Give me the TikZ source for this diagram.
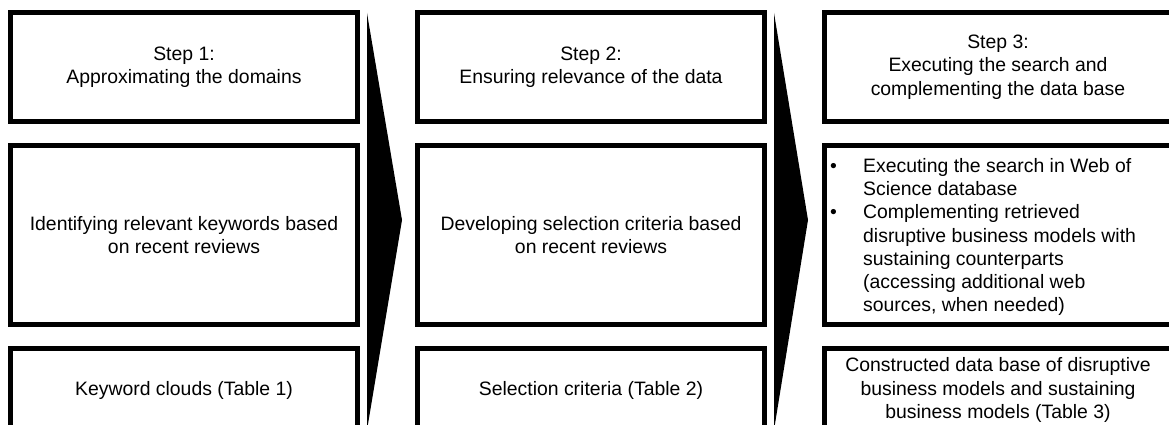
\documentclass[tikz,border=0pt]{standalone}
\usepackage{fontspec}
\setmainfont{Liberation Sans}
\usetikzlibrary{positioning, calc}
\tikzstyle{block} = [draw, rectangle, line width=5pt,
    minimum width=347pt, align=center, inner sep=0pt,
    font=\fontsize{19.4}{23.3}\selectfont]
\tikzstyle{head} = [block, minimum height=109pt]
\tikzstyle{task} = [block, minimum height=179pt]
\tikzstyle{result} = [block, minimum height=83pt]
\tikzstyle{listing} = [anchor=west, align=left, inner sep=0pt,
    font=\fontsize{19.4}{23.3}\selectfont]
\tikzstyle{chevron} = [fill=black]
\newcommand{\bul}{\makebox[34pt][l]{\hspace{1pt}•}}
\newcommand{\ind}{\hspace*{34pt}}

\begin{document}
\begin{tikzpicture}[node distance=19pt and 55pt]
    \useasboundingbox (0,0) rectangle (1169pt,-425pt);
    \clip (0,0) rectangle (1169pt,-425pt);
    % We start by placing the step headers
    \node [head, anchor=north west] (step1) at (8pt,-10pt) {Step 1:\\Approximating the domains};
    \node [head, right=of step1] (step2) {Step 2:\\Ensuring relevance of the data};
    \node [head, right=of step2] (step3) {Step 3:\\Executing the search and\\complementing the data base};

    % Then the tasks of each step
    \node [task, below=of step1] (task1) {Identifying relevant keywords based\\on recent reviews};
    \node [task, below=of step2] (task2) {Developing selection criteria based\\on recent reviews};
    \node [task, below=of step3] (task3) {};
    \node [listing] (list3) at ($(task3.west)+(7pt,-2pt)$) {\bul Executing the search in Web of\\
        \ind Science database\\
        \bul Complementing retrieved\\
        \ind disruptive business models with\\
        \ind sustaining counterparts\\
        \ind (accessing additional web\\
        \ind sources, when needed)};

    % And the results
    \node [result, below=of task1] (result1) {Keyword clouds (Table 1)};
    \node [result, below=of task2] (result2) {Selection criteria (Table 2)};
    \node [result, below=of task3] (result3) {Constructed data base of disruptive\\business models and sustaining\\business models (Table 3)};

    % Chevrons between the columns
    \coordinate (top1) at ($(step1.north east)+(7pt,-3pt)$);
    \coordinate (top2) at ($(step2.north east)+(7pt,-3pt)$);
    \fill [chevron] (top1) -- ++(35pt,-207pt) -- ++(-35pt,-210pt) -- cycle;
    \fill [chevron] (top2) -- ++(34pt,-207pt) -- ++(-34pt,-210pt) -- cycle;
\end{tikzpicture}
\end{document}
